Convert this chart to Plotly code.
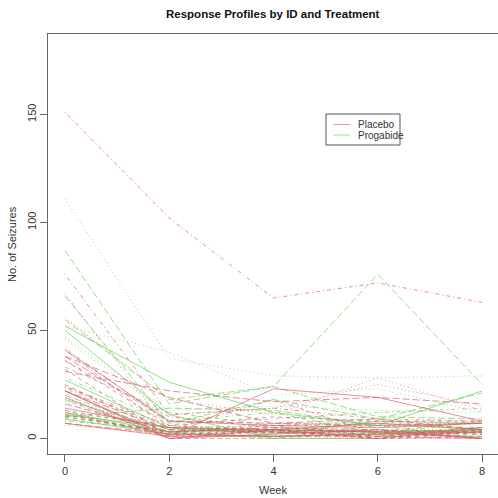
import plotly.graph_objects as go

# Epilepsy data (Thall & Vail): baseline count and four 2-week periods
weeks = [0, 2, 4, 6, 8]
treatment = ["Placebo"] * 28 + ["Progabide"] * 31
base = [11, 11, 6, 8, 66, 27, 12, 52, 23, 10, 52, 33, 18, 42, 87, 50, 18, 111, 18, 20,
        12, 9, 17, 28, 55, 9, 10, 47,
        76, 38, 19, 10, 19, 24, 31, 14, 11, 67, 41, 7, 22, 13, 46, 36, 38, 7, 36, 11,
        151, 22, 41, 32, 56, 24, 16, 22, 25, 13, 12]
y1 = [5, 3, 2, 4, 7, 5, 6, 40, 5, 14, 26, 12, 4, 7, 16, 11, 0, 37, 3, 3,
      3, 3, 2, 8, 18, 2, 3, 13,
      11, 8, 0, 3, 2, 4, 22, 5, 2, 3, 4, 2, 0, 5, 11, 10, 19, 1, 6, 2,
      102, 4, 8, 1, 18, 6, 3, 1, 2, 0, 1]
y2 = [3, 5, 4, 4, 18, 2, 4, 20, 6, 13, 12, 6, 4, 9, 24, 0, 0, 29, 5, 0,
      4, 4, 3, 12, 24, 1, 1, 15,
      14, 7, 4, 6, 6, 3, 17, 4, 4, 7, 18, 1, 2, 4, 14, 5, 7, 1, 10, 1,
      65, 3, 6, 3, 11, 3, 5, 23, 3, 0, 4]
y3 = [3, 3, 0, 1, 9, 8, 0, 23, 6, 6, 6, 8, 6, 12, 10, 0, 3, 28, 2, 6,
      3, 3, 3, 2, 76, 2, 4, 13,
      9, 9, 3, 1, 7, 1, 19, 7, 0, 7, 2, 1, 4, 0, 25, 3, 6, 2, 8, 0,
      72, 2, 5, 1, 28, 4, 4, 19, 0, 0, 3]
y4 = [3, 3, 5, 4, 21, 7, 2, 12, 5, 0, 22, 4, 2, 14, 9, 5, 3, 29, 5, 7,
      4, 4, 5, 8, 25, 1, 2, 12,
      8, 4, 0, 3, 4, 3, 16, 4, 4, 7, 5, 0, 0, 3, 15, 8, 7, 3, 8, 0,
      63, 4, 7, 5, 13, 0, 3, 8, 1, 0, 2]

legend_labels = ["Placebo", "Progabide"]
legend_colors = ["#DF536B", "#61D04F"]
# colours as they appear on the drawn profiles
line_color = {"Placebo": "#61D04F", "Progabide": "#DF536B"}
dashes = ["solid", "4px,4px", "1px,3px", "1px,3px,4px,3px", "7px,3px"]

fig = go.Figure()
for i in range(len(base)):
    fig.add_trace(go.Scatter(
        x=weeks, y=[base[i], y1[i], y2[i], y3[i], y4[i]], mode="lines",
        line=dict(color=line_color[treatment[i]], width=1, dash=dashes[i % 5]),
        opacity=0.65, showlegend=False, hoverinfo="skip"))

font = "Liberation Sans, Arial, sans-serif"
fig.update_layout(
    width=498, height=498,
    margin=dict(l=48, r=0, t=34, b=44),
    paper_bgcolor="white", plot_bgcolor="white",
    font=dict(family=font, size=11, color="#333"),
    showlegend=False,
    xaxis=dict(range=[-0.326, 8.307], tickvals=[0, 2, 4, 6, 8], showgrid=False,
               zeroline=False, showline=True, linecolor="#666", linewidth=1, mirror=True,
               ticks="outside", ticklen=7, tickcolor="#666"),
    yaxis=dict(range=[-7.2, 187.2], tickvals=[0, 50, 100, 150], showgrid=False,
               zeroline=False, showline=True, linecolor="#666", linewidth=1, mirror=True,
               ticks="outside", ticklen=7, tickcolor="#666", tickangle=-90),
)

# title and axis titles
fig.add_annotation(text="<b>Response Profiles by ID and Treatment</b>", xref="paper", yref="paper",
                   x=0.5, y=1, yshift=20, yanchor="middle", showarrow=False,
                   font=dict(size=11.5, color="#111", family=font))
fig.add_annotation(text="Week", xref="paper", yref="paper", x=0.5, y=0, yshift=-36,
                   yanchor="middle", showarrow=False, font=dict(size=11, color="#333"))
fig.add_annotation(text="No. of Seizures", xref="paper", yref="paper", x=0, xshift=-36,
                   y=0.5, textangle=-90, xanchor="center", showarrow=False,
                   font=dict(size=11, color="#333"))

# legend box
fig.add_shape(type="rect", xref="paper", yref="paper", x0=(326 - 48) / 450, x1=(400 - 48) / 450,
              y0=(454 - 145) / 420, y1=(454 - 114) / 420, line=dict(color="#555", width=1))
for k, (lab, col) in enumerate(zip(legend_labels, legend_colors)):
    yp = 124.5 + k * 10.5
    fig.add_shape(type="line", xref="paper", yref="paper",
                  x0=(333 - 48) / 450, x1=(350 - 48) / 450,
                  y0=(454 - yp) / 420, y1=(454 - yp) / 420,
                  line=dict(color=col, width=1), opacity=0.6)
    fig.add_annotation(text=lab, xref="paper", yref="paper", x=(356 - 48) / 450,
                       y=(454 - yp) / 420, xanchor="left", yanchor="middle", showarrow=False,
                       font=dict(size=10, color="#333"))

fig.write_html("out.html")
